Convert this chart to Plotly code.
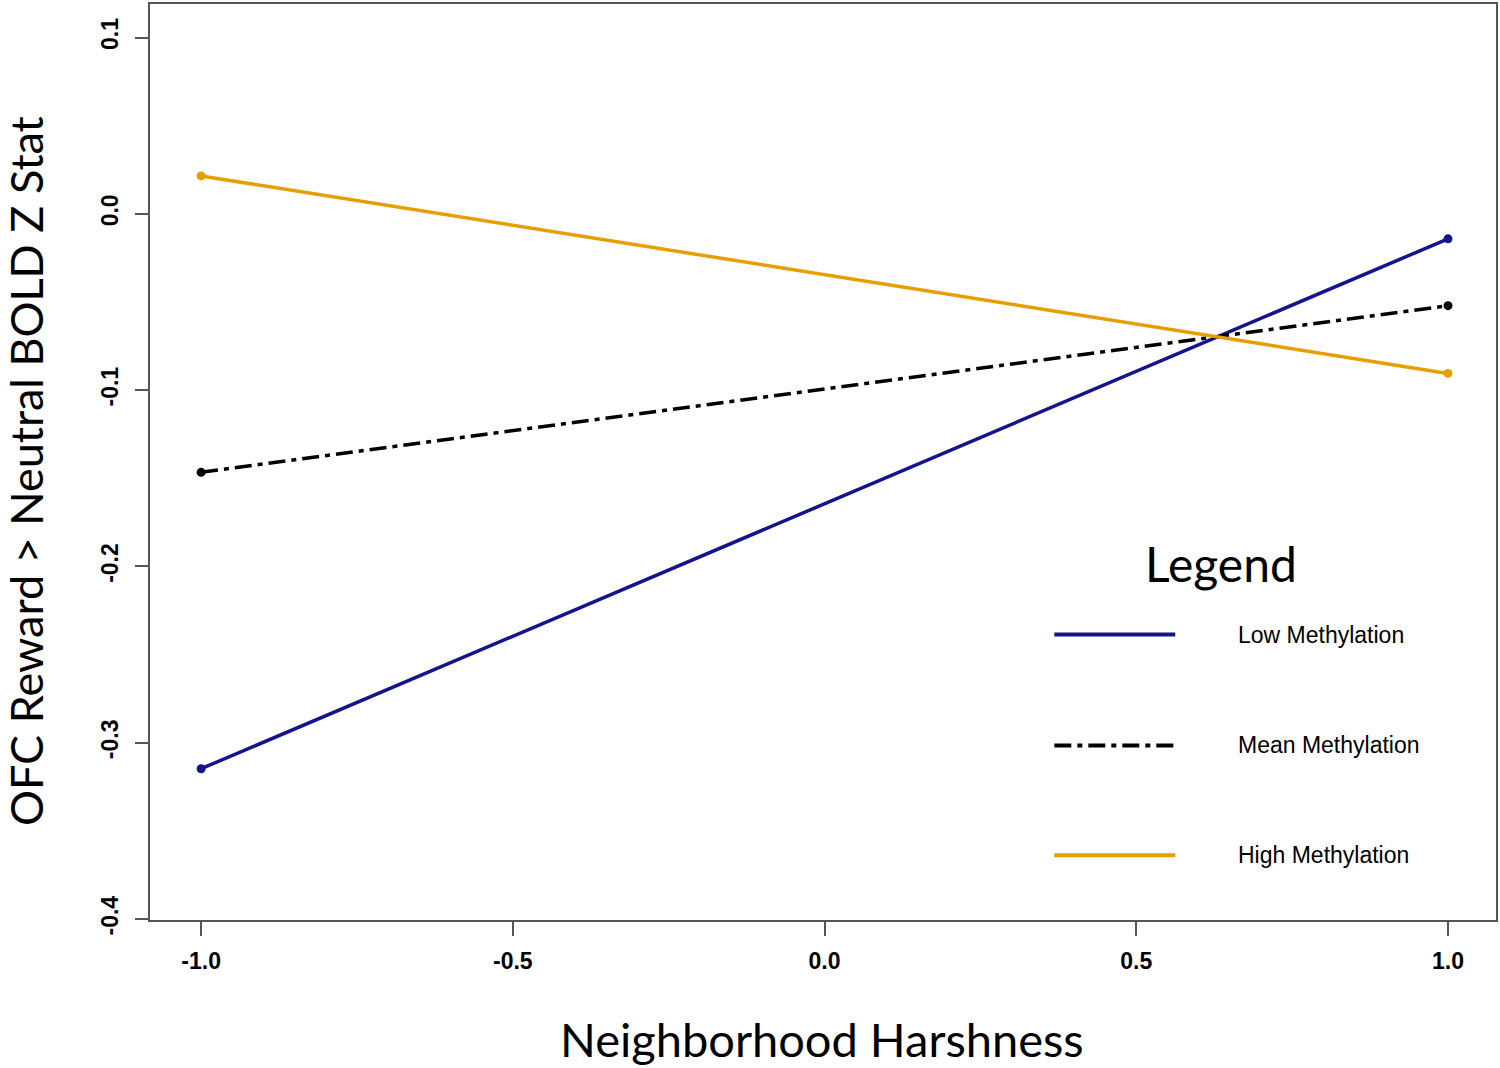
import plotly.graph_objects as go

# Data
harshness = [-1.0, 1.0]
low_meth = [-0.3147, -0.0142]
mean_meth = [-0.1466, -0.0521]
high_meth = [0.0215, -0.0905]
series_names = ["Low Methylation", "Mean Methylation", "High Methylation"]
x_ticks = [-1.0, -0.5, 0.0, 0.5, 1.0]
x_tick_labels = ["-1.0", "-0.5", "0.0", "0.5", "1.0"]
y_ticks = [-0.4, -0.3, -0.2, -0.1, 0.0, 0.1]
y_tick_labels = ["-0.4", "-0.3", "-0.2", "-0.1", "0.0", "0.1"]

BLUE = "#14148C"
ORANGE = "#E69F00"
BLACK = "#000000"
styles = [
    dict(color=BLUE, dash="solid"),
    dict(color=BLACK, dash="17px,6px,5px,6px"),
    dict(color=ORANGE, dash="solid"),
]

fig = go.Figure()
for name, ys, st in zip(series_names, [low_meth, mean_meth, high_meth], styles):
    fig.add_trace(go.Scatter(
        x=harshness, y=ys, mode="lines+markers", name=name,
        line=dict(color=st["color"], width=3.5, dash=st["dash"]),
        marker=dict(color=st["color"], size=9),
        showlegend=False,
    ))

tick_font = dict(family="Liberation Sans, Arial, sans-serif", size=23, color="black", weight="bold")
fig.update_xaxes(
    range=[-1.082, 1.077], tickvals=x_ticks, ticktext=x_tick_labels,
    ticks="outside", ticklen=14, tickwidth=1.5, tickcolor="#555",
    showline=True, linecolor="#555", linewidth=1.5, mirror=True,
    showgrid=False, zeroline=False, tickfont=tick_font, ticklabelstandoff=6,
)
fig.update_yaxes(
    range=[-0.4005, 0.119], tickvals=y_ticks, ticktext=y_tick_labels,
    ticks="outside", ticklen=13, tickwidth=1.5, tickcolor="#555",
    showline=True, linecolor="#555", linewidth=1.5, mirror=True,
    showgrid=False, zeroline=False, tickfont=tick_font, tickangle=-90,
    ticklabelstandoff=8,
)

W, H = 1500, 1068
L, R, T, B = 150, 3, 2, 148
fig.update_layout(
    width=W, height=H,
    margin=dict(l=L, r=R, t=T, b=B),
    plot_bgcolor="white", paper_bgcolor="white",
)

pw, ph = W - L - R, H - T - B

def px2paper(xp, yp):
    return (xp - L) / pw, 1 - (yp - T) / ph

ax, ay = px2paper(822, 1039)
fig.add_annotation(text="Neighborhood Harshness", x=ax, y=ay, xref="paper", yref="paper",
                   showarrow=False, font=dict(family="Lato, Open Sans, sans-serif", size=47, color="black"),
                   xanchor="center", yanchor="middle")
ax, ay = px2paper(26, 470)
fig.add_annotation(text="OFC Reward > Neutral BOLD Z Stat", x=ax, y=ay, xref="paper", yref="paper",
                   showarrow=False, font=dict(family="Lato, Open Sans, sans-serif", size=45, color="black"),
                   textangle=-90, xanchor="center", yanchor="middle")

# Legend (manual, placed inside plot)
ax, ay = px2paper(1222, 563)
fig.add_annotation(text="Legend", x=ax, y=ay, xref="paper", yref="paper", showarrow=False,
                   font=dict(family="Lato, Open Sans, sans-serif", size=48, color="black"),
                   xanchor="center", yanchor="middle")
leg_y = [634, 745, 855]
for name, st, yy in zip(series_names, styles, leg_y):
    x0, y0 = px2paper(1055, yy)
    x1, _ = px2paper(1176, yy)
    fig.add_shape(type="line", x0=x0, x1=x1, y0=y0, y1=y0, xref="paper", yref="paper",
                  line=dict(color=st["color"], width=4, dash=st["dash"]))
    tx, ty = px2paper(1237, yy)
    fig.add_annotation(text=name, x=tx, y=ty, xref="paper", yref="paper", showarrow=False,
                       font=dict(family="Liberation Sans Narrow, Arial Narrow, sans-serif", size=23, color="black"),
                       xanchor="left", yanchor="middle")

fig.write_html("out.html", config={"displayModeBar": False},
               post_script="document.body.style.margin='0';document.body.style.overflow='hidden';")
